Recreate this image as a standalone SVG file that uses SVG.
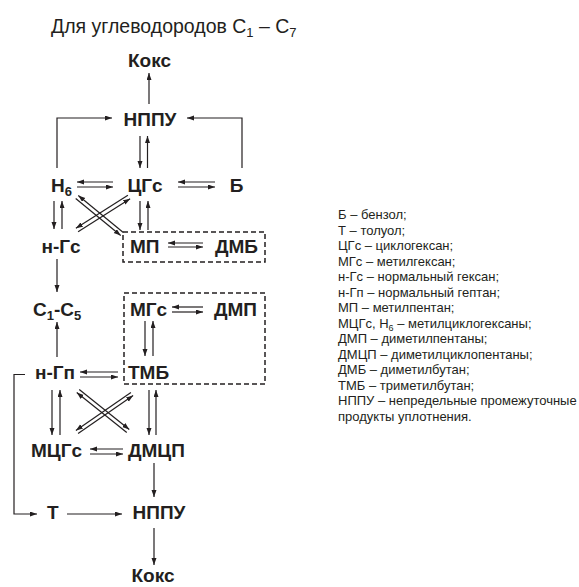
<svg xmlns="http://www.w3.org/2000/svg" width="579" height="587" viewBox="0 0 579 587">
<style>
text{font-family:"Liberation Sans",Arial,sans-serif;fill:#231f20}
.n{font-size:19px;font-weight:bold}
.t{font-size:19.5px}
.lg{font-size:13px}
.c line,.c polyline{stroke:#231f20;stroke-width:1.2;fill:none}
.a{marker-end:url(#ah)}
.box{fill:none;stroke:#231f20;stroke-width:1.5;stroke-dasharray:5,3}
</style>
<defs>
<marker id="ah" markerUnits="userSpaceOnUse" markerWidth="8" markerHeight="6" refX="7" refY="2.5" orient="auto">
<path d="M0,0 L7,2.5 L0,5 z" fill="#231f20"/>
</marker>
</defs>
<rect width="579" height="587" fill="#fff"/>
<text class="t" x="51" y="33">Для углеводородов C<tspan font-size="13" dy="4">1</tspan><tspan dy="-4"> – C</tspan><tspan font-size="13" dy="4">7</tspan></text>

<g id="koks1"><text class="n" x="149.5" y="67" text-anchor="middle">Кокс</text></g>
<g id="nppu1"><text class="n" x="150" y="126" text-anchor="middle">НППУ</text></g>
<g id="h6"><text class="n" x="51" y="192">Н<tspan font-size="13" dy="4">6</tspan></text></g>
<g id="cgs"><text class="n" x="145" y="192" text-anchor="middle">ЦГс</text></g>
<g id="b"><text class="n" x="236.5" y="192" text-anchor="middle">Б</text></g>
<g id="ngs"><text class="n" x="61" y="253" text-anchor="middle">н-Гс</text></g>
<g id="mp"><text class="n" x="130" y="253">МП</text></g>
<g id="dmb"><text class="n" x="215" y="253">ДМБ</text></g>
<g id="c1c5"><text class="n" x="33" y="316">C<tspan font-size="13" dy="4">1</tspan><tspan dy="-4">-C</tspan><tspan font-size="13" dy="4">5</tspan></text></g>
<g id="mgs"><text class="n" x="130" y="316">МГс</text></g>
<g id="dmp"><text class="n" x="214" y="316">ДМП</text></g>
<g id="ngp"><text class="n" x="35" y="379">н-Гп</text></g>
<g id="tmb"><text class="n" x="128" y="379">ТМБ</text></g>
<g id="mcgs"><text class="n" x="31" y="457">МЦГс</text></g>
<g id="dmcp"><text class="n" x="128" y="457">ДМЦП</text></g>
<g id="t"><text class="n" x="47" y="519">Т</text></g>
<g id="nppu2"><text class="n" x="159" y="519" text-anchor="middle">НППУ</text></g>
<g id="koks2"><text class="n" x="153" y="582" text-anchor="middle">Кокс</text></g>

<g id="groups">
<rect class="box" x="123" y="232" width="142" height="30"/>
<rect class="box" x="124" y="293" width="141" height="91"/>
</g>

<g id="connectors" class="c">
<line class="a" x1="149" y1="104" x2="149" y2="73"/>
<polyline class="a" points="57,168 57,118 112,118"/>
<polyline class="a" points="242,168 242,118 187,118"/>
<line class="a" x1="140" y1="136" x2="140" y2="168"/>
<line class="a" x1="147.5" y1="168" x2="147.5" y2="136"/>
<line class="a" x1="113" y1="182" x2="77" y2="182"/>
<line class="a" x1="77" y1="187" x2="113" y2="187"/>
<line class="a" x1="215" y1="182" x2="178" y2="182"/>
<line class="a" x1="178" y1="187" x2="215" y2="187"/>
<line class="a" x1="54" y1="201" x2="54" y2="229"/>
<line class="a" x1="62" y1="229" x2="62" y2="201"/>
<line class="a" x1="140" y1="201" x2="140" y2="230"/>
<line class="a" x1="148" y1="230" x2="148" y2="201"/>
<line class="a" x1="123.3" y1="232.5" x2="78.3" y2="195.5"/>
<line class="a" x1="75.7" y1="198.5" x2="120.7" y2="235.5"/>
<line class="a" x1="78.1" y1="231.7" x2="130.1" y2="198.7"/>
<line class="a" x1="127.9" y1="195.3" x2="75.9" y2="228.3"/>
<line class="a" x1="203" y1="243" x2="168" y2="243"/>
<line class="a" x1="168" y1="247" x2="203" y2="247"/>
<line class="a" x1="57" y1="259" x2="57" y2="292"/>
<line class="a" x1="203" y1="307" x2="172" y2="307"/>
<line class="a" x1="172" y1="312" x2="203" y2="312"/>
<line class="a" x1="145" y1="321" x2="145" y2="356"/>
<line class="a" x1="153" y1="356" x2="153" y2="321"/>
<line class="a" x1="57" y1="357" x2="57" y2="322"/>
<line class="a" x1="118" y1="372" x2="80" y2="372"/>
<line class="a" x1="80" y1="377" x2="118" y2="377"/>
<polyline class="a" points="25,374.5 14,374.5 14,514 37,514"/>
<line class="a" x1="67" y1="514" x2="122" y2="514"/>
<line class="a" x1="52" y1="390" x2="52" y2="435"/>
<line class="a" x1="60" y1="435" x2="60" y2="390"/>
<line class="a" x1="149" y1="390" x2="149" y2="435"/>
<line class="a" x1="156" y1="435" x2="156" y2="390"/>
<line class="a" x1="126.75" y1="432.56" x2="76.75" y2="392.56"/>
<line class="a" x1="79.25" y1="389.44" x2="129.25" y2="429.44"/>
<line class="a" x1="78.1" y1="433.6" x2="133.1" y2="395.6"/>
<line class="a" x1="130.9" y1="392.4" x2="75.9" y2="430.4"/>
<line class="a" x1="123" y1="449" x2="90" y2="449"/>
<line class="a" x1="90" y1="454" x2="123" y2="454"/>
<line class="a" x1="154" y1="463" x2="154" y2="497"/>
<line class="a" x1="154" y1="528" x2="154" y2="565"/>
</g>

<g id="legend" class="lg">
<text class="lg" x="338" y="219">Б – бензол;</text>
<text class="lg" x="338" y="234.5">Т – толуол;</text>
<text class="lg" x="338" y="250">ЦГс – циклогексан;</text>
<text class="lg" x="338" y="265.5">МГс – метилгексан;</text>
<text class="lg" x="338" y="281">н-Гс – нормальный гексан;</text>
<text class="lg" x="338" y="296.5">н-Гп – нормальный гептан;</text>
<text class="lg" x="338" y="312">МП – метилпентан;</text>
<text class="lg" x="338" y="327.5">МЦГс, Н<tspan font-size="9" dy="3">6</tspan><tspan dy="-3"> – метилциклогексаны;</tspan></text>
<text class="lg" x="338" y="343">ДМП – диметилпентаны;</text>
<text class="lg" x="338" y="358.5">ДМЦП – диметилциклопентаны;</text>
<text class="lg" x="338" y="374">ДМБ – диметилбутан;</text>
<text class="lg" x="338" y="389.5">ТМБ – триметилбутан;</text>
<text class="lg" x="338" y="405">НППУ – непредельные промежуточные</text>
<text class="lg" x="338" y="420.5">продукты уплотнения.</text>
</g>
</svg>
